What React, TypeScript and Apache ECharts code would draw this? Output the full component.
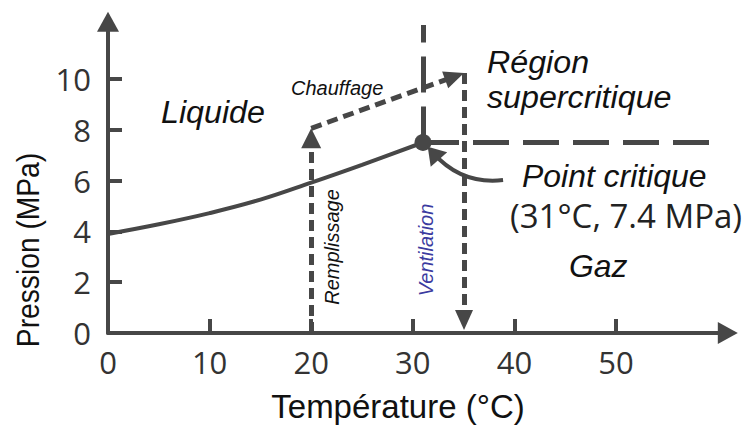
import React, { useEffect, useRef } from "react";
import * as echarts from "echarts";

// ---- data ----
const xTicks = [0, 10, 20, 30, 40, 50];
const yTicks = [0, 2, 4, 6, 8, 10];
const satTemp = [0, 5, 10, 15, 20, 25, 31];
const satPress = [3.9, 4.28, 4.72, 5.25, 5.92, 6.62, 7.5];
const criticalPoint = [31, 7.5];
const isobarEndTemp = 59.4;
const isothermTopPress = 12.13;
const fillPath = [[20, 0], [20, 7.67]];
const heatPath = [[20, 8.06], [34.11, 10.1]];
const ventPath = [[35.04, 10.24], [35.04, 0.51]];
const pointerPath = [[38.88, 6.02], [32.02, 7.08]];

const INK = "#474747";
const SANS = "'Liberation Sans', Arial, sans-serif";
const TICKFONT = "'Open Sans', 'Noto Sans', sans-serif";

function txt(
  text: string,
  x: number,
  y: number,
  font: string,
  opts: { align?: string; rotation?: number; fill?: string; lineHeight?: number; scaleX?: number } = {}
) {
  const align = opts.align || "left";
  return {
    type: "text",
    x,
    y,
    rotation: opts.rotation || 0,
    scaleX: opts.scaleX || 1,
    silent: true,
    z: 100,
    style: {
      text,
      font,
      fill: opts.fill || "#111",
      align,
      verticalAlign: "middle",
      textAlign: align,
      textVerticalAlign: "middle",
      lineHeight: opts.lineHeight,
    },
  };
}

export default function App() {
  const ref = useRef<HTMLDivElement>(null);
  useEffect(() => {
    if (!ref.current) return;
    const chart = echarts.init(ref.current, undefined, { renderer: "svg" });
    const arrowLine = { color: INK, width: 5, type: [11, 6], opacity: 1 };
    const option: any = {
      animation: false,
      backgroundColor: "#ffffff",
      grid: {
        left: 108,
        top: 21.85,
        width: 619.8,
        height: 311.15,
        containLabel: false,
        outerBoundsMode: "none",
      },
      xAxis: {
        type: "value",
        min: 0,
        max: 61,
        interval: 10,
        axisLine: {
          show: true,
          onZero: true,
          symbol: ["none", "triangle"],
          symbolSize: [22, 20],
          lineStyle: { color: INK, width: 4 },
        },
        axisTick: {
          show: true,
          inside: true,
          length: 14,
          customValues: xTicks,
          lineStyle: { color: INK, width: 4 },
        },
        axisLabel: {
          customValues: xTicks,
          margin: 13,
          fontFamily: TICKFONT,
          fontSize: 31,
          color: "#333",
        },
        splitLine: { show: false },
      },
      yAxis: {
        type: "value",
        min: 0,
        max: 12.25,
        interval: 2,
        axisLine: {
          show: true,
          onZero: true,
          symbol: ["none", "triangle"],
          symbolSize: [22, 20],
          lineStyle: { color: INK, width: 4 },
        },
        axisTick: {
          show: true,
          inside: true,
          length: 14,
          customValues: yTicks,
          lineStyle: { color: INK, width: 4 },
        },
        axisLabel: {
          customValues: yTicks,
          margin: 17,
          fontFamily: TICKFONT,
          fontSize: 31,
          color: "#333",
        },
        splitLine: { show: false },
      },
      series: [
        {
          type: "line",
          name: "Saturation",
          data: satTemp.map((t, i) => [t, satPress[i]]),
          smooth: 0.4,
          showSymbol: false,
          symbol: "none",
          lineStyle: { color: INK, width: 4 },
          z: 3,
        },
        {
          type: "lines",
          coordinateSystem: "cartesian2d",
          symbol: "none",
          lineStyle: { color: INK, width: 5, type: [36, 14], opacity: 1 },
          data: [
            { coords: [criticalPoint, [criticalPoint[0], isothermTopPress]] },
            { coords: [criticalPoint, [isobarEndTemp, criticalPoint[1]]] },
          ],
          z: 2,
        },
        {
          type: "lines",
          coordinateSystem: "cartesian2d",
          symbol: ["none", "triangle"],
          symbolSize: [1, [20, 20]],
          lineStyle: arrowLine,
          data: [{ coords: fillPath }],
          z: 4,
        },
        {
          type: "lines",
          coordinateSystem: "cartesian2d",
          symbol: ["none", "triangle"],
          symbolSize: [1, [18, 20]],
          lineStyle: arrowLine,
          data: [{ coords: heatPath }],
          z: 4,
        },
        {
          type: "lines",
          coordinateSystem: "cartesian2d",
          symbol: ["none", "triangle"],
          symbolSize: [1, [18, 20]],
          lineStyle: arrowLine,
          data: [{ coords: ventPath }],
          z: 4,
        },
        {
          type: "lines",
          coordinateSystem: "cartesian2d",
          symbol: ["none", "triangle"],
          symbolSize: [1, [22, 17]],
          lineStyle: { color: INK, width: 4, curveness: 0.26, opacity: 1 },
          data: [{ coords: pointerPath }],
          z: 4,
        },
        {
          type: "scatter",
          data: [criticalPoint],
          symbol: "circle",
          symbolSize: 17,
          itemStyle: { color: INK, opacity: 1 },
          z: 6,
        },
      ],
      graphic: [
        txt("Liquide", 161, 112.6, `italic 31px ${SANS}`, { scaleX: 1.04 }),
        txt("Chauffage", 291, 88, `italic 20px ${SANS}`),
        txt("Région\nsupercritique", 487, 79.8, `italic 31px ${SANS}`, { lineHeight: 35, scaleX: 1.04 }),
        txt("Point critique", 522, 176.3, `italic 31px ${SANS}`, { scaleX: 1.03 }),
        txt("(31°C, 7.4 MPa)", 510, 215, `33px ${TICKFONT}`, { fill: "#222" }),
        txt("Gaz", 569, 266.3, `italic 31px ${SANS}`, { scaleX: 1.03 }),
        txt("Remplissage", 332, 247, `italic 20px ${SANS}`, { align: "center", rotation: Math.PI / 2 }),
        txt("Ventilation", 426, 250, `italic 20px ${SANS}`, {
          align: "center",
          rotation: Math.PI / 2,
          fill: "#3b3ba0",
        }),
        txt("Température (°C)", 398, 406, `33px ${SANS}`, { align: "center" }),
        txt("Pression (MPa)", 28, 250, `31px ${SANS}`, {
          align: "center",
          rotation: Math.PI / 2,
          scaleX: 0.91,
        }),
      ],
    };
    chart.setOption(option);
    return () => chart.dispose();
  }, []);
  return (
    <div
      ref={ref}
      style={{ position: "fixed", left: 0, top: 0, width: 752, height: 425, background: "#fff" }}
    />
  );
}
